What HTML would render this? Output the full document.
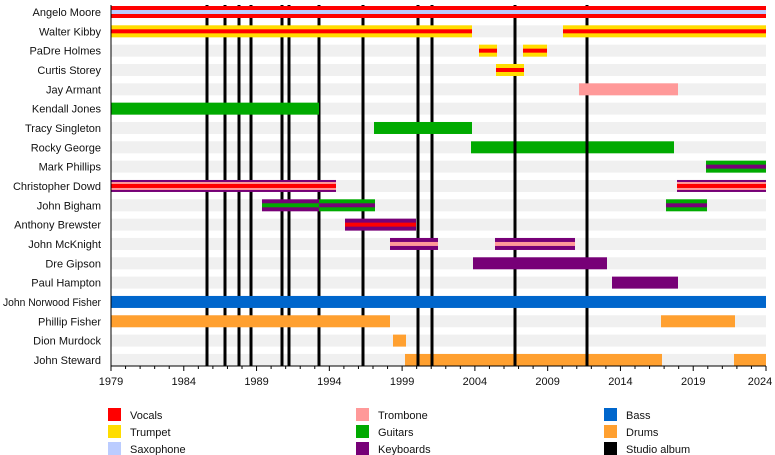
<!DOCTYPE html>
<html><head><meta charset="utf-8"><style>
body{margin:0;background:#fff}
svg{display:block;font-family:"Liberation Sans",sans-serif}
</style></head><body>
<svg width="775" height="455" xmlns="http://www.w3.org/2000/svg">
<g id="bg" fill="#f0f0f0"></g>
<g id="early"></g>
<g id="lines" stroke="#000" stroke-width="3"></g>
<g id="bars"></g>
<g id="labels" font-size="11" text-anchor="end" fill="#111"></g>
<g id="axis"></g>
<g font-size="11" fill="#111">
<rect x="108" y="408" width="13" height="13" fill="#ff0000"/><text x="130" y="419">Vocals</text>
<rect x="108" y="425" width="13" height="13" fill="#ffdd00"/><text x="130" y="436">Trumpet</text>
<rect x="108" y="442" width="13" height="13" fill="#bbccff"/><text x="130" y="453">Saxophone</text>
<rect x="356" y="408" width="13" height="13" fill="#ff9999"/><text x="378" y="419">Trombone</text>
<rect x="356" y="425" width="13" height="13" fill="#00aa00"/><text x="378" y="436">Guitars</text>
<rect x="356" y="442" width="13" height="13" fill="#770077"/><text x="378" y="453">Keyboards</text>
<rect x="604" y="408" width="13" height="13" fill="#0066cc"/><text x="626" y="419">Bass</text>
<rect x="604" y="425" width="13" height="13" fill="#ffa030"/><text x="626" y="436">Drums</text>
<rect x="604" y="442" width="13" height="13" fill="#000"/><text x="626" y="453">Studio album</text>
</g>
<script>
var NS="http://www.w3.org/2000/svg";
function el(p,t,a,txt){var e=document.createElementNS(NS,t);for(var k in a)e.setAttribute(k,a[k]);if(txt)e.textContent=txt;document.getElementById(p).appendChild(e);}
var names=["Angelo Moore","Walter Kibby","PaDre Holmes","Curtis Storey","Jay Armant","Kendall Jones","Tracy Singleton","Rocky George","Mark Phillips","Christopher Dowd","John Bigham","Anthony Brewster","John McKnight","Dre Gipson","Paul Hampton","John Norwood Fisher","Phillip Fisher","Dion Murdock","John Steward"];
function cy(i){return 12+i*19.33;}
names.forEach(function(n,i){
 el("bg","rect",{x:111,y:cy(i)-6,width:655,height:12});
 var a={x:101,y:cy(i)+4};
 if(n=="John Norwood Fisher"){a.textLength=98;a.lengthAdjust="spacingAndGlyphs";}
 el("labels","text",a,n);
});
[207,225,239,251,282,289,319,363,418,432,515,587].forEach(function(x){el("lines","line",{x1:x,x2:x,y1:5,y2:366});});
var R="#ff0000",Y="#ffdd00",S="#bbccff",T="#ff9999",G="#00aa00",K="#770077",B="#0066cc",D="#ffa030";
function bar(g,i,x1,x2,c,s,s2){var y=cy(i);
 el(g,"rect",{x:x1,y:y-6,width:x2-x1,height:12,fill:c});
 if(s2){el(g,"rect",{x:x1,y:y-4,width:x2-x1,height:8,fill:s});el(g,"rect",{x:x1,y:y-2,width:x2-x1,height:4,fill:s2});}
 else if(s)el(g,"rect",{x:x1,y:y-2,width:x2-x1,height:4,fill:s});}
bar("bars",0,111,766,R,S);
bar("bars",1,111,472,Y,R);bar("bars",1,563,766,Y,R);
bar("bars",2,479,497,Y,R);bar("bars",2,523,547,Y,R);
bar("bars",3,496,524,Y,R);
bar("bars",4,579,678,T);
bar("bars",5,111,319,G);
bar("bars",6,374,472,G);
bar("early",7,471,674,G);
bar("bars",8,706,766,G,K);
bar("bars",9,111,336,K,T,R);bar("bars",9,677,766,K,T,R);
bar("bars",10,262,319,K,G);bar("bars",10,319,375,G,K);bar("bars",10,666,707,G,K);
bar("bars",11,345,416,K,R);
bar("bars",12,390,438,K,T);bar("bars",12,495,575,K,T);
bar("bars",13,473,607,K);
bar("bars",14,612,678,K);
bar("bars",15,111,766,B);
bar("bars",16,111,390,D);bar("bars",16,661,735,D);
bar("bars",17,393,406,D);
bar("early",18,405,662,D);bar("early",18,734,766,D);
el("axis","line",{x1:111,x2:111,y1:5,y2:366,stroke:"#000","stroke-width":1});
el("axis","line",{x1:111,x2:766,y1:366,y2:366,stroke:"#000","stroke-width":1});
for(var yr=1979;yr<=2024;yr++){var x=111+(yr-1979)*655/45;var maj=(yr-1979)%5==0;
 el("axis","line",{x1:x,x2:x,y1:366,y2:maj?371:369,stroke:"#000","stroke-width":1});
 if(maj)el("axis","text",{x:yr==2024?x-6:x,y:385,"font-size":"11","text-anchor":"middle",fill:"#111"},String(yr));}
</script>
</svg>
</body></html>
